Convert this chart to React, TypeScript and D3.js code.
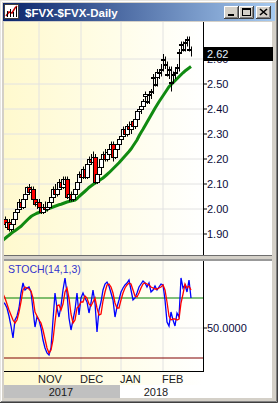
import React from "react";
import * as d3 from "d3";

// ---------- DATA ----------
const opens = [1.94,1.96,1.93,1.95,1.92,1.94,1.96,1.99,2.00,2.03,2.01,2.04,2.06,2.09,2.07,2.08,2.04,2.02,
  2.03,2.01,1.99,2.01,2.00,2.01,2.03,2.05,2.08,2.06,2.08,2.11,2.09,2.10,2.12,2.05,2.06,2.04,2.06,2.08,2.11,
  2.14,2.13,2.16,2.13,2.18,2.20,2.19,2.21,2.11,2.14,2.17,2.20,2.22,2.20,2.22,2.24,2.26,2.21,2.24,2.26,
  2.28,2.29,2.32,2.30,2.33,2.32,2.35,2.33,2.36,2.39,2.40,2.41,2.45,2.43,2.46,2.47,2.53,2.50,2.53,2.55,
  2.56,2.60,2.58,2.54,2.56,2.51,2.54,2.55,2.57,2.63,2.66,2.64,2.67,2.68,2.64];
const highs = [1.97,1.97,1.96,1.96,1.95,1.97,2.00,2.01,2.04,2.04,2.05,2.07,2.09,2.10,2.09,2.09,2.06,2.04,
  2.04,2.02,2.02,2.03,2.02,2.04,2.06,2.09,2.10,2.09,2.12,2.12,2.13,2.13,2.13,2.07,2.07,2.07,2.09,2.12,2.15,
  2.16,2.17,2.18,2.19,2.21,2.22,2.23,2.22,2.15,2.18,2.21,2.23,2.24,2.24,2.25,2.27,2.27,2.25,2.27,2.29,
  2.30,2.33,2.33,2.34,2.35,2.35,2.36,2.37,2.40,2.41,2.42,2.44,2.47,2.46,2.47,2.48,2.54,2.54,2.56,2.56,2.58,
  2.62,2.61,2.59,2.57,2.57,2.55,2.56,2.58,2.64,2.67,2.67,2.68,2.69,2.69,2.65];
const lows = [1.93,1.93,1.92,1.91,1.91,1.93,1.95,1.97,1.99,2.00,2.00,2.03,2.05,2.06,2.05,2.03,2.01,2.00,
  2.00,1.98,1.98,1.99,1.99,2.00,2.02,2.04,2.05,2.05,2.07,2.08,2.08,2.09,2.04,2.03,2.03,2.03,2.05,2.07,2.10,
  2.12,2.12,2.12,2.12,2.17,2.18,2.18,2.10,2.10,2.13,2.16,2.19,2.19,2.19,2.21,2.23,2.19,2.20,2.23,2.25,
  2.26,2.28,2.29,2.29,2.31,2.30,2.32,2.32,2.35,2.37,2.38,2.40,2.42,2.42,2.42,2.44,2.46,2.49,2.49,2.52,2.53,
  2.55,2.56,2.53,2.52,2.47,2.50,2.52,2.54,2.55,2.62,2.63,2.63,2.65,2.63,2.61];
const closes = [1.96,1.94,1.95,1.92,1.94,1.96,1.99,2.00,2.03,2.01,2.04,2.06,2.09,2.07,2.08,2.04,2.02,2.03,
  2.01,1.99,2.01,2.00,2.01,2.03,2.05,2.08,2.06,2.08,2.11,2.09,2.12,2.12,2.05,2.06,2.04,2.06,2.08,2.11,2.14,
  2.13,2.16,2.13,2.18,2.20,2.19,2.21,2.11,2.14,2.17,2.20,2.22,2.20,2.23,2.24,2.26,2.21,2.24,2.26,2.28,
  2.29,2.32,2.30,2.33,2.32,2.34,2.33,2.36,2.39,2.40,2.41,2.43,2.46,2.43,2.46,2.47,2.53,2.50,2.55,2.55,2.56,
  2.60,2.58,2.54,2.56,2.51,2.54,2.55,2.57,2.63,2.66,2.64,2.67,2.68,2.64,2.62];
const movingAvg = [1.876,1.882,1.889,1.895,1.902,1.908,1.913,1.919,1.925,1.931,1.939,1.947,1.955,1.963,1.970,1.975,1.979,1.983,
  1.986,1.989,1.992,1.995,1.998,2.002,2.005,2.008,2.011,2.014,2.017,2.019,2.022,2.025,2.028,2.030,2.032,2.034,2.036,2.042,2.050,
  2.057,2.064,2.071,2.078,2.086,2.092,2.098,2.103,2.108,2.113,2.119,2.124,2.131,2.138,2.145,2.153,2.161,2.169,2.177,2.185,
  2.194,2.203,2.212,2.221,2.230,2.240,2.252,2.264,2.276,2.292,2.306,2.319,2.333,2.347,2.361,2.375,2.389,2.403,2.416,2.429,2.441,
  2.453,2.465,2.477,2.489,2.497,2.505,2.513,2.521,2.529,2.537,2.545,2.552,2.558,2.564,2.570];
const stochK = [76,74,70,62,52,40,58,62,70,85,95,88,90,91,86,68,51,61,
  58,50,38,30,25,23,30,58,85,70,61,72,88,100,85,60,48,58,68,85,63,
  80,85,80,76,65,75,88,75,46,68,76,88,94,96,92,85,78,61,71,78,
  86,90,93,95,98,88,78,80,85,91,94,97,95,91,95,86,88,92,88,91,94,
  93,78,56,52,66,58,52,65,61,100,90,93,86,98,80];
const stochD = [84,80,74,68,63,58,55,58,66,76,88,91,90,89,87,80,66,62,
  58,55,48,39,30,25,28,38,56,72,73,68,74,86,90,80,64,55,58,70,72,
  76,76,82,80,74,72,76,80,70,63,64,77,86,93,94,91,85,75,70,70,
  78,85,90,93,95,94,88,82,81,85,90,94,95,94,93,91,90,89,89,90,91,
  93,88,76,62,58,59,59,58,59,75,84,94,90,92,88];
const priceTicks = [1.9, 2.0, 2.1, 2.2, 2.3, 2.4, 2.5, 2.6];
const monthStarts = [18, 39, 59, 80];
const monthLabels = ["NOV", "DEC", "JAN", "FEB"];
const yearLabels = ["2017", "2018"];
const yearStarts = [0, 59];
const lastPrice = 2.62;
const stochLevels = [80, 20];

// ---------- LAYOUT ----------
const W = 278, H = 403;
const PL = 4, PR = 203, PT = 22, PB = 255;
const ST = 261, SB = 371;
const N = closes.length;
const font = "'Liberation Sans', Arial, sans-serif";

export default function App() {
  const x = d3.scaleLinear().domain([0, N - 1]).range([3, 3 + 2 * (N - 1)]);
  const y = d3.scaleLinear().domain([1.9, 2.5]).range([234, 84]);
  const ys = d3.scaleLinear().domain([7, 117]).range([SB, ST]);
  const idx = d3.range(N);
  const maLine = d3.line<number>().x((i) => x(i)).y((i) => y(movingAvg[i]))(idx) || "";
  const kLine = d3.line<number>().x((i) => x(i)).y((i) => ys(stochK[i]))(idx) || "";
  const dLine = d3.line<number>().x((i) => x(i)).y((i) => ys(stochD[i]))(idx) || "";

  const btn = (bx: number, glyph: React.ReactNode, key: string) => (
    <g key={key}>
      <rect x={bx} y={6} width={15} height={13} fill="#D4D0C8" />
      <path d={`M${bx + 0.5},${19} V${6.5} H${bx + 15}`} stroke="#fff" fill="none" />
      <path d={`M${bx},${18.5} H${bx + 14.5} V${6}`} stroke="#404040" fill="none" />
      <path d={`M${bx + 1},${17.5} H${bx + 13.5} V${7}`} stroke="#808080" fill="none" />
      {glyph}
    </g>
  );

  return (
    <svg width={W} height={H} style={{ position: "absolute", left: 0, top: 0 }} fontFamily={font}>
      <defs>
        <linearGradient id="bg" x1="0" x2="1" y1="0" y2="0">
          <stop offset="0" stopColor="#FFF9CE" />
          <stop offset="0.55" stopColor="#FFFDE8" />
          <stop offset="1" stopColor="#FFFFFF" />
        </linearGradient>
        <linearGradient id="tb" x1="0" x2="1" y1="0" y2="0">
          <stop offset="0" stopColor="#0A246A" />
          <stop offset="1" stopColor="#A6CAF0" />
        </linearGradient>
        <clipPath id="cp"><rect x={PL} y={PT} width={PR - PL} height={PB - PT} /></clipPath>
        <clipPath id="cs"><rect x={PL} y={ST} width={PR - PL} height={SB - ST} /></clipPath>
      </defs>
      {/* window frame */}
      <rect x={0} y={0} width={W} height={H} fill="#D4D0C8" />
      <path d={`M0.5,${H} V0.5 H${W}`} stroke="#E8E6E1" fill="none" />
      <path d={`M1.5,${H - 1} V1.5 H${W - 1}`} stroke="#fff" fill="none" />
      <path d={`M${W - 0.5},0 V${H - 0.5} H0`} stroke="#404040" fill="none" />
      <path d={`M${W - 1.5},1 V${H - 1.5} H1`} stroke="#808080" fill="none" />
      {/* title bar */}
      <rect x={3} y={3} width={272} height={18} fill="url(#tb)" />
      <rect x={4.5} y={4.5} width={14} height={14} fill="#fff" stroke="#404040" />
      <path d="M6,16 L9,12 L12,13 L15,8 L17,6" stroke="#C00000" fill="none" strokeWidth={1.5} />
      <path d="M7.5,17 V11 M10.5,17 V9 M13.5,17 V12 M16.5,17 V7" stroke="#000" strokeWidth={1} />
      <text x={25} y={17} fill="#fff" fontWeight="bold" fontSize={11.5}>$FVX-$FVX-Daily</text>
      {btn(224, <rect x={228} y={14} width={6} height={2} fill="#000" />, "min")}
      {btn(239, <g><rect x={242.5} y={8.5} width={8} height={7} fill="none" stroke="#000" /><rect x={242} y={8} width={9} height={2} fill="#000" /></g>, "max")}
      {btn(256, <path d="M260,9 L267,15 M267,9 L260,15" stroke="#000" strokeWidth={1.6} />, "cls")}

      {/* client area */}
      <rect x={PL} y={PT} width={272 - PL} height={398 - PT} fill="#fff" />
      <rect x={PL} y={PT} width={PR - PL} height={PB - PT} fill="url(#bg)" />
      <rect x={PL} y={ST} width={PR - PL} height={385 - ST} fill="url(#bg)" />

      {/* price gridlines */}
      {priceTicks.map((t) => (
        <line key={t} x1={PL} x2={PR} y1={y(t)} y2={y(t)} stroke="#E2E2E2" />
      ))}
      {monthStarts.map((m) => (
        <line key={"pv" + m} x1={x(m)} x2={x(m)} y1={PT} y2={PB} stroke="#E2E2E2" />
      ))}

      {/* candles */}
      <g clipPath="url(#cp)">
        <path d={maLine} stroke="#108A10" strokeWidth={3} fill="none" />
        {idx.map((i) => {
          const up = closes[i] >= opens[i];
          const top = Math.round(y(Math.max(opens[i], closes[i]))) + 0.5;
          const bot = Math.round(y(Math.min(opens[i], closes[i]))) + 0.5;
          const cx = Math.round(x(i)) + 0.5;
          return (
            <g key={i}>
              <line x1={cx} x2={cx} y1={y(highs[i])} y2={y(lows[i])} stroke="#000" />
              <rect x={cx - 2} y={top} width={4} height={Math.max(bot - top, 1)} fill={up ? "#fff" : "#FF0000"} stroke="#000" />
            </g>
          );
        })}
      </g>

      {/* price axis */}
      <line x1={PR + 0.5} x2={PR + 0.5} y1={PT} y2={PB} stroke="#000" />
      {priceTicks.map((t) => (
        <g key={"pt" + t}>
          <line x1={PR} x2={PR + 4} y1={y(t)} y2={y(t)} stroke="#000" />
          <text x={207} y={y(t) + 4} fontSize={11} fill="#0A0A3A">{t.toFixed(2)}</text>
        </g>
      ))}
      <rect x={PR + 1} y={y(lastPrice) - 7} width={69} height={14} fill="#000" />
      <text x={207} y={y(lastPrice) + 4} fontSize={11} fill="#E6F2FF">{lastPrice.toFixed(2)}</text>

      {/* separator */}
      <rect x={PL} y={255} width={272 - PL} height={1} fill="#6E6E6E" />
      <rect x={PL} y={256} width={272 - PL} height={3} fill="#D4D0C8" />
      <rect x={PL} y={259} width={272 - PL} height={2} fill="#999999" />

      {/* stochastic panel */}
      <line x1={PL} x2={PR} y1={ys(50)} y2={ys(50)} stroke="#E2E2E2" />
      {monthStarts.map((m) => (
        <line key={"sv" + m} x1={x(m)} x2={x(m)} y1={ST} y2={SB} stroke="#E2E2E2" />
      ))}
      <line x1={PL} x2={PR} y1={ys(stochLevels[0])} y2={ys(stochLevels[0])} stroke="#008000" />
      <line x1={PL} x2={PR} y1={ys(stochLevels[1])} y2={ys(stochLevels[1])} stroke="#800000" />
      <g clipPath="url(#cs)">
        <path d={kLine} stroke="#0000FF" strokeWidth={1.3} fill="none" />
        <path d={dLine} stroke="#FF0000" strokeWidth={1.3} fill="none" />
      </g>
      <text x={8} y={273} fontSize={10.5} fill="#3333CC">STOCH(14,1,3)</text>
      <line x1={PR + 0.5} x2={PR + 0.5} y1={ST} y2={SB} stroke="#000" />
      <line x1={PL} x2={PR + 1} y1={SB + 0.5} y2={SB + 0.5} stroke="#000" />
      <line x1={PR} x2={PR + 4} y1={ys(50)} y2={ys(50)} stroke="#000" />
      <text x={207} y={ys(50) + 4} fontSize={11} fill="#0A0A3A">50.0000</text>

      {/* month labels */}
      {monthStarts.map((m, k) => (
        <text key={"ml" + k} x={x(m) - 1} y={383} fontSize={11} fill="#1A1A1A">{monthLabels[k]}</text>
      ))}
      {/* year band */}
      <rect x={PL} y={385} width={x(yearStarts[1]) - 1 - PL} height={13} fill="#C0C0C0" />
      {yearLabels.map((yl, k) => {
        const a = x(yearStarts[k]);
        const b = k + 1 < yearStarts.length ? x(yearStarts[k + 1] - 1) : x(N - 1);
        return (
          <text key={yl} x={(a + b) / 2} y={396} fontSize={11} textAnchor="middle" fill="#1A1A1A">{yl}</text>
        );
      })}
    </svg>
  );
}
